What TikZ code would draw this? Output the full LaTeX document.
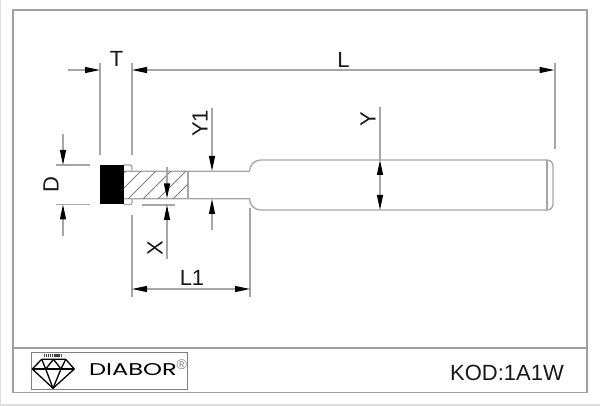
\documentclass[tikz,border=0pt]{standalone}
\usepackage{fontspec}
\setmainfont{Liberation Sans}
\newfontfamily\logofont{Poppins}
\usetikzlibrary{arrows.meta}
\definecolor{linegray}{HTML}{A6A6A6}
\definecolor{framegray}{HTML}{A0A0A0}
\definecolor{outergray}{HTML}{DEDEDE}
\tikzset{
  part/.style={draw=linegray,line width=1.3pt},
  hatch/.style={draw=black!50,line width=0.8pt},
  ext/.style={draw=linegray,line width=1.2pt},
  dimarrow/.style={draw=linegray,line width=1.2pt,{Triangle[length=15pt,width=6pt,color=black]}-{Triangle[length=15pt,width=6pt,color=black]}},
  headend/.style={draw=linegray,line width=1.2pt,-{Triangle[length=15pt,width=6pt,color=black]}},
  dimlabel/.style={inner sep=0pt,font=\fontsize{22}{22}\selectfont,text=black!90},
  gem/.style={draw=black,line width=1.3pt,line join=round},
}
\begin{document}
\begin{tikzpicture}[x=1pt,y=-1pt]
\useasboundingbox (0,0) rectangle (600,406);
\fill[white] (0,0) rectangle (600,406);
% outer faint lines
\draw[outergray,line width=1.2pt] (0.5,0) -- (0.5,405) -- (600,405);
% frame
\draw[framegray,line width=1.5pt] (13,10) rectangle (587,392.5);
\draw[framegray,line width=2pt] (13,10) -- (13,392.5);
\draw[framegray,line width=1.2pt] (13,348) -- (587,348);
% logo
\draw[gray,line width=0.8pt] (31,352.5) rectangle (187,389.5);
\draw[gem] (41.7,359.3) -- (65.7,359.3) -- (74.3,369) -- (53,388.3) -- (32.3,369) -- cycle;
\draw[gem] (32.3,369) -- (74.3,369);
\draw[gem] (41.7,359.3) -- (45.7,369) -- (53.5,359.3) -- (61,369) -- (65.7,359.3);
\draw[gem] (45.7,369) -- (53,388.3) -- (61,369);
\draw[black!75,line width=2.6pt,dash pattern=on 1.2pt off 0.7pt] (44,355.5) -- (62,355.5);
\node[inner sep=0pt] (logotext) at (133,370) {\scalebox{1.42}[1.0]{\logofont\fontsize{17}{17}\selectfont DIABOR}};
\node[inner sep=0pt,text=gray] (logoreg) at (181.7,364.5) {\fontsize{14}{14}\selectfont ®};
\node[inner sep=0pt,text=black!90] (kod) at (507,373) {\fontsize{22}{22}\selectfont KOD:1A1W};
% tool
\fill[black] (100,165) rectangle (124,204.5);
\draw[part] (124,165) -- (130,165) .. controls (131.2,165) and (132,165.8) .. (132,167) -- (132,171.3);
\draw[part] (124,204.5) -- (130,204.5) .. controls (131.2,204.5) and (132,203.7) .. (132,202.5) -- (132,198.7);
\draw[part] (124,171.3) -- (249.5,171.3)
  .. controls (249.5,165.2) and (254.4,160) .. (260.5,160) -- (547,160)
  .. controls (550.5,160) and (553,162.5) .. (553,166) -- (553,204)
  .. controls (553,207.5) and (550.5,210) .. (547,210) -- (260.5,210)
  .. controls (254.4,210) and (249.5,204.8) .. (249.5,198.7) -- (124,198.7);
\draw[part] (547,160) -- (547,210);
\draw[part] (188,171.3) -- (188,198.7);
\begin{scope}
\clip (124,171.3) rectangle (188,198.7);
\foreach \c in {297,312,327,342,357,372}
  \draw[hatch] ({\c-210},210) -- ({\c-160},160);
\end{scope}
% extension lines
\draw[ext] (100,63) -- (100,155);
\draw[ext] (132,63) -- (132,155);
\draw[ext] (132,215) -- (132,297);
\draw[ext] (250,208) -- (250,297);
\draw[ext] (555,63) -- (555,149);
\draw[ext] (56,165) -- (90,165);
\draw[ext] (56,204.5) -- (90,204.5);
\draw[ext] (142,205) -- (175,205);
% T and L
\coordinate (tl) at (68,70);
\coordinate (ta) at (100,70);
\coordinate (tb) at (132,70);
\coordinate (lb) at (554.5,70);
\draw[headend] (tl) -- (ta);
\draw[dimarrow] (tb) -- (lb);
\node[dimlabel] (labelT) at (116.5,58.5) {T};
\node[dimlabel] (labelL) at (343.5,59.5) {L};
% L1
\coordinate (l1a) at (132,289);
\coordinate (l1b) at (250,289);
\draw[dimarrow] (l1a) -- (l1b);
\node[dimlabel] (labelLone) at (192,278) {L1};
% D
\coordinate (da) at (63,134);
\coordinate (db) at (63,165);
\coordinate (dc) at (63,204.5);
\coordinate (dd) at (63,236);
\draw[headend] (da) -- (db);
\draw[headend] (dd) -- (dc);
\node[dimlabel,rotate=90] (labelD) at (51,184.5) {D};
% X
\coordinate (xa) at (167,167);
\coordinate (xb) at (167,198.5);
\coordinate (xc) at (167,205);
\coordinate (xd) at (167,259);
\draw[headend] (xa) -- (xb);
\draw[headend] (xd) -- (xc);
\node[dimlabel,rotate=90] (labelX) at (155,248.5) {X};
% Y1
\coordinate (ya) at (212,108);
\coordinate (yb) at (212,171);
\coordinate (yc) at (212,199);
\coordinate (yd) at (212,230);
\draw[headend] (ya) -- (yb);
\draw[headend] (yd) -- (yc);
\node[dimlabel,rotate=90] (labelYone) at (200,123.5) {Y1};
% Y
\coordinate (za) at (380,107);
\coordinate (zb) at (380,160);
\coordinate (zc) at (380,210);
\draw[ext] (za) -- (zb);
\draw[dimarrow] (zb) -- (zc);
\node[dimlabel,rotate=90] (labelY) at (368,119) {Y};
\end{tikzpicture}
\end{document}
